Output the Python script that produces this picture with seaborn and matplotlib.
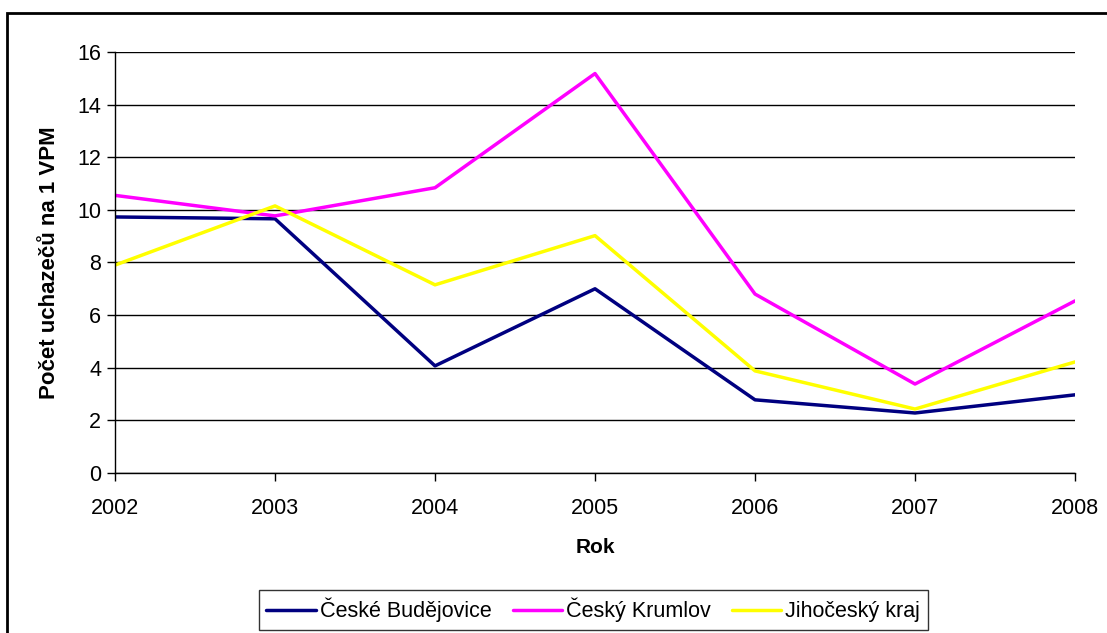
import matplotlib.pyplot as plt
import pandas as pd
import seaborn as sns
from matplotlib.patches import Rectangle

# Data
years = [2002, 2003, 2004, 2005, 2006, 2007, 2008]
ceske_budejovice = [9.73, 9.66, 4.07, 7.00, 2.78, 2.28, 2.97]
cesky_krumlov = [10.55, 9.77, 10.84, 15.18, 6.80, 3.38, 6.54]
jihocesky_kraj = [7.90, 10.15, 7.15, 9.02, 3.88, 2.43, 4.22]

series_names = ['České Budějovice', 'Český Krumlov', 'Jihočeský kraj']
colors = ['#000080', '#FF00FF', '#FFFF00']

df = pd.DataFrame({
    'Rok': years * 3,
    'value': ceske_budejovice + cesky_krumlov + jihocesky_kraj,
    'series': [s for s in series_names for _ in years],
})

sns.set_style('white')
plt.rcParams['font.family'] = ['Liberation Sans', 'DejaVu Sans']
plt.rcParams['text.color'] = 'black'
plt.rcParams['axes.labelcolor'] = 'black'
plt.rcParams['xtick.color'] = 'black'
plt.rcParams['ytick.color'] = 'black'

fig = plt.figure(figsize=(11.07, 6.33), dpi=100)
ax = fig.add_axes([0.1039, 0.2528, 0.8672, 0.6651])

sns.lineplot(data=df, x='Rok', y='value', hue='series', palette=colors,
             hue_order=series_names, linewidth=2.5, ax=ax, legend=True)

ax.set_xlim(2002, 2008)
ax.set_ylim(0, 16)
ax.set_xticks(years)
ax.set_yticks(range(0, 17, 2))
ax.grid(axis='y', color='black', linewidth=1)
ax.set_axisbelow(True)
for side in ['top', 'right']:
    ax.spines[side].set_visible(False)
ax.spines['left'].set_color('black')
ax.spines['bottom'].set_color('black')
ax.spines['left'].set_linewidth(1)
ax.spines['bottom'].set_linewidth(1)
ax.tick_params(axis='both', direction='out', length=6, width=1, color='black',
               labelsize=15.5, left=True, bottom=True)
ax.tick_params(axis='x', pad=12)
ax.tick_params(axis='y', pad=4)

ax.set_xlabel('Rok', fontsize=15, fontweight='bold', labelpad=14)
ax.set_ylabel('Počet uchazečů na 1 VPM', fontsize=16, fontweight='bold', labelpad=12)

handles, labels = ax.get_legend_handles_labels()
ax.legend_.remove()
leg = fig.legend(handles, labels, loc='center', bbox_to_anchor=(0.536, 0.036),
                 ncol=3, fontsize=15.5, frameon=True, fancybox=False,
                 handlelength=2.3, handletextpad=0.2, columnspacing=0.95,
                 borderpad=0.35, borderaxespad=0, edgecolor='black')
leg.get_frame().set_linewidth(1)

# outer chart border
fig.patches.append(Rectangle((7 / 1107, -0.1), 1.2, 1 - 13 / 633 + 0.1,
                             transform=fig.transFigure, fill=False,
                             edgecolor='black', linewidth=2, clip_on=False))

fig.patch.set_facecolor('white')
fig.savefig('out.png', dpi=100)
